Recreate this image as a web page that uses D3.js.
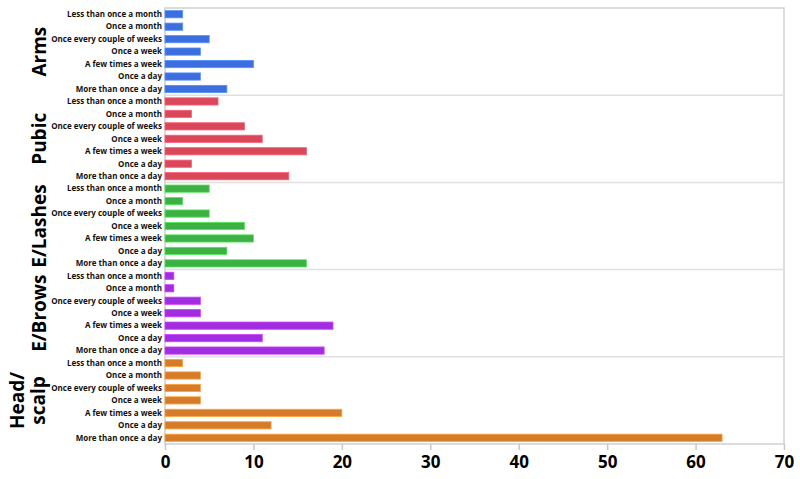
<!doctype html>
<html>
<head>
<meta charset="utf-8"/>
<title>Grooming frequency</title>
<script src="https://d3js.org/d3.v7.min.js"></script>
<style>
body { margin: 0; background: white; }
text { font-family: "Open Sans", "DejaVu Sans", sans-serif; font-weight: bold; }
</style>
</head>
<body>
<svg id="chart"></svg>
<script>
const width = 800
const height = 479

// data
const groups = ['Arms', 'Pubic', 'E/Lashes', 'E/Brows', 'Head/scalp']
const groupLines = [['Arms'], ['Pubic'], ['E/Lashes'], ['E/Brows'], ['Head/', 'scalp']]
const frequencies = ['Less than once a month', 'Once a month', 'Once every couple of weeks',
    'Once a week', 'A few times a week', 'Once a day', 'More than once a day']
const arms = [2, 2, 5, 4, 10, 4, 7]
const pubic = [6, 3, 9, 11, 16, 3, 14]
const lashes = [5, 2, 5, 9, 10, 7, 16]
const brows = [1, 1, 4, 4, 19, 11, 18]
const head = [2, 4, 4, 4, 20, 12, 63]
const xTicks = [0, 10, 20, 30, 40, 50, 60, 70]
const colors = ['#3d6ee0', '#d9485a', '#3cb043', '#a02ee0', '#d67b2a']

const values = [arms, pubic, lashes, brows, head]
const rows = []
groups.forEach((g, gi) => {
    frequencies.forEach((f, fi) => {
        rows.push({key: g + '|' + f, group: gi, label: f, value: values[gi][fi]})
    })
})

const plotLeft = 165, plotRight = 784, plotTop = 8, plotBottom = 444

const svg = d3.select('#chart')
    .attr('width', width)
    .attr('height', height)

const x = d3.scaleLinear().domain([0, 70]).range([plotLeft, plotRight])
const y = d3.scaleBand().domain(rows.map(d => d.key)).range([plotTop, plotBottom]).paddingInner(0.42).paddingOuter(0.21)
const yg = d3.scaleBand().domain(groups).range([plotTop, plotBottom])

// frame
svg.append('rect')
    .attr('x', plotLeft).attr('y', plotTop)
    .attr('width', plotRight - plotLeft).attr('height', plotBottom - plotTop)
    .attr('fill', 'none').attr('stroke', '#d0d0d0').attr('stroke-width', 1.5)

// group separators
svg.selectAll('line.sep')
    .data(groups.slice(1))
    .join('line')
    .attr('x1', plotLeft).attr('x2', plotRight)
    .attr('y1', d => yg(d)).attr('y2', d => yg(d))
    .attr('stroke', '#e0e0e0').attr('stroke-width', 1.5)

// bars
svg.selectAll('rect.bar')
    .data(rows)
    .join('rect')
    .attr('x', x(0))
    .attr('y', d => y(d.key))
    .attr('width', d => x(d.value) - x(0))
    .attr('height', y.bandwidth())
    .attr('fill', d => colors[d.group])
    .attr('stroke', d => d3.color(colors[d.group]).brighter(0.8))
    .attr('stroke-width', 0.8)

// category labels
svg.selectAll('text.cat')
    .data(rows)
    .join('text')
    .attr('x', plotLeft - 3)
    .attr('y', d => y(d.key) + y.bandwidth() / 2)
    .attr('dy', '0.35em')
    .attr('text-anchor', 'end')
    .attr('font-size', 8)
    .attr('fill', '#111')
    .text(d => d.label)

// group labels (rotated, two lines for head/scalp)
groups.forEach((g, gi) => {
    const lines = groupLines[gi]
    const cy = yg(g) + yg.bandwidth() / 2
    lines.forEach((l, li) => {
        const cx = lines.length === 1 ? 39 : 17 + li * 21
        svg.append('text')
            .attr('transform', `translate(${cx + 7},${cy}) rotate(-90)`)
            .attr('text-anchor', 'middle')
            .attr('font-size', 19)
            .attr('fill', '#000')
            .text(l)
    })
})

// x axis
const axis = svg.append('g')
    .attr('transform', `translate(0,${plotBottom})`)
    .call(d3.axisBottom(x).tickValues(xTicks).tickSize(6).tickPadding(6))
axis.select('.domain').remove()
axis.selectAll('.tick line').attr('stroke', '#c8c8c8').attr('stroke-width', 1.5)
axis.selectAll('.tick text')
    .attr('font-size', 17)
    .attr('fill', '#000')
    .attr('font-family', '"Open Sans", "DejaVu Sans", sans-serif')
    .attr('font-weight', 'bold')
</script>
</body>
</html>
